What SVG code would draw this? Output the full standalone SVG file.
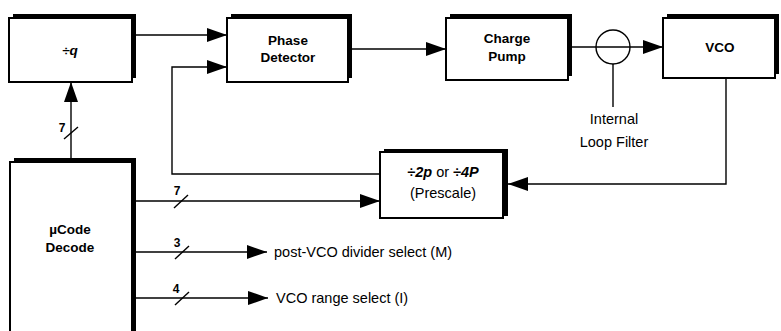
<svg xmlns="http://www.w3.org/2000/svg" width="781" height="331" viewBox="0 0 781 331">
<defs>
<marker id="ah" markerUnits="userSpaceOnUse" markerWidth="20" markerHeight="14" refX="20" refY="7" orient="auto">
<path d="M0,0 L20,7 L0,14 z" fill="#000"/>
</marker>
</defs>
<style>
.box{fill:#fff;stroke:#000;stroke-width:2}
.sh{fill:#000}
.lbl{font-family:"Liberation Sans",Arial,sans-serif;font-weight:bold;font-size:13.5px;text-anchor:middle}
.txt{font-family:"Liberation Sans",Arial,sans-serif;font-size:14.5px}
.num{font-family:"Liberation Sans",Arial,sans-serif;font-weight:bold;font-size:12px;text-anchor:middle}
.ln{fill:none;stroke:#000;stroke-width:1.4}
.arr{fill:none;stroke:#000;stroke-width:1.4;marker-end:url(#ah)}
</style>
<rect width="781" height="331" fill="#fff"/>
<g id="connectors">
<path class="arr" d="M132,35 H227"/>
<path class="arr" d="M380,174 H172 V67 H227"/>
<path class="arr" d="M348,49 H446"/>
<path class="arr" d="M568,47 H663"/>
<circle cx="613" cy="47" r="17" fill="none" stroke="#000" stroke-width="1.4"/>
<path class="ln" d="M613,64 V107"/>
<path class="arr" d="M726,78 V184 H508"/>
<path class="arr" d="M71,162 V82"/>
<path class="ln" d="M64,139 L78,127"/>
<path class="arr" d="M136,201 H380"/>
<path class="ln" d="M174,208 L188,195"/>
<path class="arr" d="M136,252 H267"/>
<path class="ln" d="M175,259 L189,246"/>
<path class="arr" d="M136,298 H268"/>
<path class="ln" d="M175,305 L189,292"/>
<text class="num" x="62" y="132">7</text>
<text class="num" x="177" y="195">7</text>
<text class="num" x="177" y="247">3</text>
<text class="num" x="176" y="293">4</text>
</g>
<g id="divq">
<rect class="sh" x="13" y="14" width="123" height="64"/>
<rect class="box" x="9" y="18" width="123" height="64"/>
<text class="lbl" x="70" y="55" font-style="italic" font-size="16">÷q</text>
</g>
<g id="phase-detector">
<rect class="sh" x="231" y="14" width="121" height="64"/>
<rect class="box" x="227" y="18" width="121" height="64"/>
<text class="lbl" x="288" y="45">Phase</text>
<text class="lbl" x="288" y="62">Detector</text>
</g>
<g id="charge-pump">
<rect class="sh" x="450" y="14" width="122" height="62"/>
<rect class="box" x="446" y="18" width="122" height="62"/>
<text class="lbl" x="507" y="43">Charge</text>
<text class="lbl" x="507" y="61">Pump</text>
</g>
<g id="vco">
<rect class="sh" x="667" y="14" width="112" height="60"/>
<rect class="box" x="663" y="18" width="112" height="60"/>
<text class="lbl" x="720" y="52" font-size="15">VCO</text>
</g>
<g id="loop-filter-label">
<text class="txt" x="614" y="124" text-anchor="middle" font-size="13">Internal</text>
<text class="txt" x="614" y="147" text-anchor="middle" font-size="13">Loop Filter</text>
</g>
<g id="prescale">
<rect class="sh" x="384" y="149" width="124" height="67"/>
<rect class="box" x="380" y="152" width="123" height="66" stroke-width="3"/>
<text class="txt" x="443" y="177" text-anchor="middle"><tspan font-weight="bold" font-style="italic">÷2p</tspan> or <tspan font-weight="bold" font-style="italic">÷4P</tspan></text>
<text class="txt" x="443" y="198" text-anchor="middle">(Prescale)</text>
</g>
<g id="ucode">
<rect class="sh" x="14" y="158" width="122" height="190"/>
<rect class="box" x="10" y="162" width="122" height="190"/>
<text class="lbl" x="70" y="234" font-size="14.5">µCode</text>
<text class="lbl" x="70" y="252" font-size="14.5">Decode</text>
</g>
<g id="outputs">
<text class="txt" x="274" y="257">post-VCO divider select (M)</text>
<text class="txt" x="276" y="303">VCO range select (I)</text>
</g>
</svg>
